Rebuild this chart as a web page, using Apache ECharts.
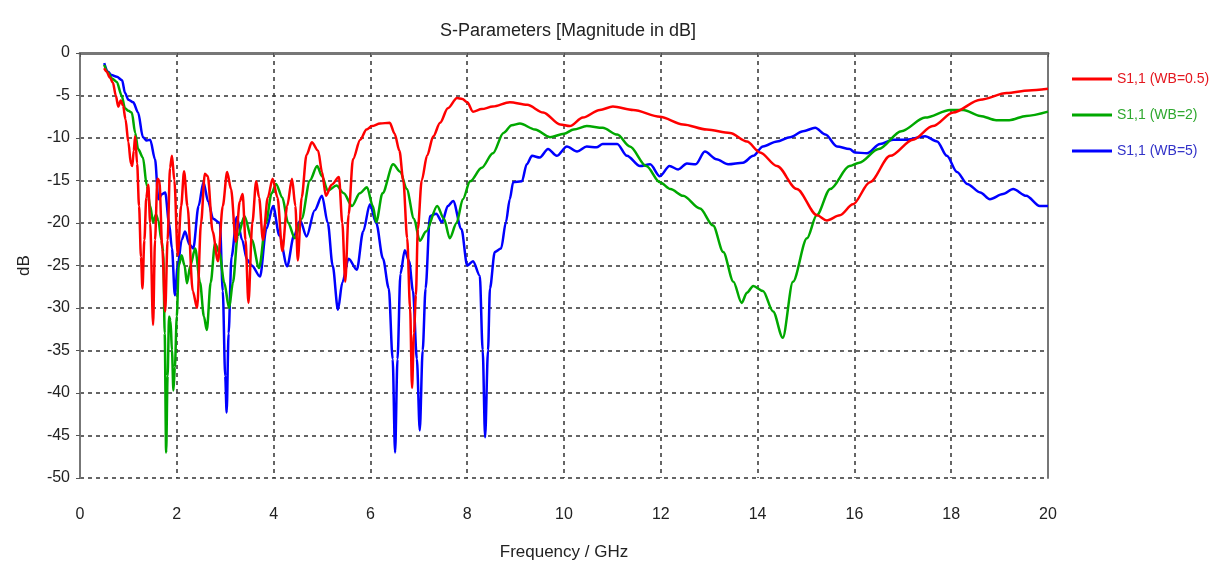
<!DOCTYPE html>
<html>
<head>
<meta charset="utf-8">
<script src="https://cdn.jsdelivr.net/npm/echarts@6/dist/echarts.min.js"></script>
<style>
  html, body { margin: 0; padding: 0; background: #fff; overflow: hidden; }
  #chart { width: 1214px; height: 566px; }
</style>
</head>
<body>
<div id="chart"></div>
<script>
// S1,1 magnitude (dB) versus frequency (GHz) for three WB values
const redFreq = [0.50,0.55,0.62,0.68,0.74,0.79,0.84,0.89,0.94,1.00,1.05,1.08,1.11,1.14,1.18,1.22,1.26,1.29,1.33,1.37,1.41,1.45,1.51,1.55,1.60,1.64,1.70,1.76,1.81,1.86,1.90,1.95,2.02,2.09,2.15,2.22,2.33,2.42,2.50,2.58,2.64,2.74,2.85,2.95,3.04,3.12,3.22,3.30,3.36,3.42,3.48,3.56,3.64,3.70,3.78,3.88,3.98,4.08,4.18,4.28,4.38,4.45,4.50,4.58,4.68,4.79,4.92,5.00,5.08,5.20,5.35,5.42,5.48,5.55,5.64,5.79,5.92,6.03,6.20,6.40,6.50,6.60,6.68,6.76,6.82,6.86,6.90,6.94,6.98,7.06,7.17,7.30,7.44,7.60,7.79,7.90,8.00,8.12,8.30,8.53,8.88,9.24,9.57,9.92,10.12,10.39,10.74,11.01,11.43,11.98,12.46,12.95,13.43,13.78,14.05,14.40,14.81,15.23,15.43,15.70,15.97,16.32,16.74,17.21,17.62,18.04,18.60,19.15,19.60,20.00];
const redDb = [-1.8,-2.2,-2.9,-3.5,-5.0,-6.3,-5.6,-6.2,-7.8,-10.5,-13.0,-13.3,-11.5,-9.8,-13,-18,-24,-27.7,-22,-17,-15.5,-20,-32,-22,-14.8,-15,-23,-30.4,-22,-13.5,-12.1,-15,-23.8,-18,-13.9,-18,-28,-30,-20,-14.2,-14.5,-21,-24.5,-18,-14.0,-16,-22.2,-17.5,-16.6,-22,-29.4,-20,-15.1,-17,-22,-17,-14.8,-17,-23.3,-18,-14.8,-18,-24.4,-17,-12,-10.5,-11.5,-14,-16.8,-15.5,-14.6,-20,-26.9,-19,-12.5,-10.2,-9.0,-8.6,-8.3,-8.2,-9.5,-11.5,-15,-21.8,-30,-39.4,-33,-28.5,-20.7,-15,-12.1,-9.8,-8.2,-6.5,-5.3,-5.4,-5.8,-6.9,-6.6,-6.3,-5.8,-6.1,-7.0,-8.4,-8.6,-7.6,-6.7,-6.3,-6.7,-7.5,-8.4,-9.0,-9.4,-10.4,-11.7,-13.3,-16.0,-19.1,-19.7,-19.1,-17.8,-15.2,-12.1,-10.2,-8.6,-7.0,-5.5,-4.7,-4.4,-4.2];

const greenFreq = [0.50,0.58,0.66,0.76,0.86,0.93,1.00,1.07,1.14,1.20,1.30,1.38,1.45,1.51,1.57,1.62,1.68,1.72,1.75,1.78,1.81,1.84,1.87,1.90,1.93,1.96,2.00,2.04,2.10,2.16,2.21,2.28,2.38,2.48,2.56,2.62,2.70,2.79,2.88,2.98,3.08,3.16,3.26,3.40,3.55,3.70,3.84,3.96,4.05,4.18,4.30,4.44,4.58,4.75,4.90,5.00,5.12,5.30,5.45,5.62,5.78,5.93,6.05,6.12,6.25,6.47,6.62,6.75,6.90,7.02,7.15,7.38,7.52,7.64,7.78,7.91,8.06,8.30,8.53,8.75,8.92,9.09,9.40,9.71,10.00,10.20,10.47,10.80,11.10,11.36,11.70,11.98,12.20,12.46,12.81,13.08,13.29,13.50,13.67,13.78,13.91,14.11,14.32,14.52,14.73,15.02,15.22,15.50,15.90,16.10,16.50,16.97,17.46,17.98,18.25,18.60,18.93,19.20,19.55,20.00];
const greenDb = [-1.4,-2.3,-3.0,-3.4,-5.0,-6.5,-6.8,-7.0,-9.4,-11.3,-12.3,-15.6,-18,-19.9,-19,-19.7,-22,-23.4,-33,-47,-38,-31,-31.5,-35,-39.7,-37,-31,-25,-23.8,-25,-27.1,-25,-23,-27,-31,-32.6,-27,-22.4,-23.5,-27,-30,-27,-21.5,-19.2,-22,-25.3,-20,-16.5,-15.4,-17,-20,-21.8,-19.5,-15,-13.3,-14.5,-16.2,-15.6,-16.5,-18.0,-16.5,-15.8,-18,-19.9,-16.5,-13.1,-14,-16,-19.5,-22.1,-21,-18,-19.5,-21.8,-20,-17.2,-15.1,-13.5,-11.8,-9.4,-8.5,-8.3,-9.0,-9.9,-9.5,-9.0,-8.6,-8.8,-9.6,-11.0,-13.3,-15.2,-16.0,-16.8,-18.3,-20.3,-23.4,-26.9,-29.4,-28.2,-27.4,-28.0,-30.4,-33.5,-26.9,-21.8,-19.1,-16.0,-13.3,-12.9,-11.3,-9.2,-7.6,-6.7,-6.7,-7.4,-7.9,-7.9,-7.4,-6.9];

const blueFreq = [0.50,0.58,0.65,0.76,0.87,0.93,1.00,1.10,1.20,1.30,1.38,1.45,1.55,1.62,1.70,1.76,1.84,1.90,1.96,2.02,2.10,2.17,2.26,2.34,2.45,2.55,2.65,2.75,2.89,2.95,3.00,3.03,3.07,3.13,3.24,3.35,3.45,3.55,3.72,3.85,3.99,4.12,4.28,4.42,4.55,4.68,4.85,5.00,5.12,5.22,5.33,5.42,5.55,5.72,5.85,5.99,6.12,6.26,6.38,6.46,6.51,6.56,6.62,6.71,6.80,6.88,6.96,7.02,7.08,7.14,7.23,7.36,7.48,7.60,7.71,7.88,8.00,8.12,8.26,8.32,8.37,8.43,8.47,8.57,8.70,8.80,8.88,8.95,9.13,9.23,9.34,9.50,9.67,9.85,10.06,10.27,10.47,10.67,10.80,11.10,11.30,11.57,11.78,11.98,12.18,12.36,12.54,12.72,12.91,13.15,13.39,13.70,13.91,14.11,14.40,14.67,14.94,15.19,15.40,15.64,15.90,16.01,16.26,16.53,16.80,17.08,17.46,17.71,17.91,18.12,18.33,18.60,18.80,19.07,19.28,19.55,19.83,20.00];
const blueDb = [-1.2,-2.2,-2.6,-2.8,-3.2,-4.7,-5.5,-5.8,-7.0,-9.9,-10.3,-10.2,-12.5,-17.2,-16.6,-16.4,-20,-23,-28.5,-25,-22,-21,-22.5,-23,-18,-15.2,-17.5,-19.5,-20,-28,-38,-42.3,-33,-24,-19.3,-22,-24.3,-25,-26.3,-20.7,-18,-21.5,-25.1,-21.5,-19.7,-21.6,-18.5,-16.8,-20,-25,-30.2,-27,-24.2,-25.5,-21,-17.8,-20,-24.2,-27.7,-36,-47,-36,-26,-23.2,-24.5,-28,-36,-44.4,-35,-27.7,-19.2,-18.9,-19.9,-18,-17.4,-20.7,-25,-24.5,-26.2,-35,-45.2,-35,-27.7,-23.4,-23,-19.9,-17.2,-15.2,-15.1,-13.1,-12.1,-12.3,-11.3,-12.1,-11.0,-11.6,-11.0,-11.1,-10.7,-10.7,-12.1,-13.3,-13.1,-14.5,-13.3,-13.7,-13.0,-13.1,-11.6,-12.5,-13.1,-12.9,-12.1,-11.0,-10.4,-9.9,-9.2,-8.8,-9.6,-11.0,-11.3,-11.7,-11.8,-10.7,-10.2,-10.2,-9.8,-10.4,-12.1,-14.0,-15.4,-16.4,-17.2,-16.6,-16.0,-16.8,-18.0,-18.0];

const seriesNames = ['S1,1 (WB=0.5)', 'S1,1 (WB=2)', 'S1,1 (WB=5)'];
const lineColors = ['#ff0000', '#00a800', '#0000ff'];
const legendTextColors = ['#e4161e', '#2fa82f', '#3232c8'];

const yTicks = [0, -5, -10, -15, -20, -25, -30, -35, -40, -45, -50];

const FONT = '"Liberation Sans", Arial, sans-serif';

function pairs(xs, ys) { return xs.map((x, i) => [x, ys[i]]); }

const chart = echarts.init(document.getElementById('chart'), null, { renderer: 'canvas', width: 1214, height: 566 });

const dashed = { show: true, lineStyle: { color: '#333', type: [4, 4], width: 1.5 } };

chart.setOption({
  animation: false,
  backgroundColor: '#ffffff',
  title: {
    text: 'S-Parameters [Magnitude in dB]',
    left: 563, top: 17, textAlign: 'center',
    textStyle: { fontFamily: FONT, fontSize: 18, fontWeight: 'normal', color: '#222' }
  },
  legend: {
    orient: 'vertical', left: 1067, top: 67,
    itemWidth: 40, itemHeight: 3, itemGap: 22,
    icon: 'rect',
    textStyle: { fontFamily: FONT, fontSize: 14 },
    data: seriesNames.map((n, i) => ({ name: n, textStyle: { color: legendTextColors[i] } }))
  },
  grid: { left: 80, top: 53, width: 968, height: 428, containLabel: false },
  xAxis: [{
    type: 'value', min: 0, max: 20, interval: 2,
    name: 'Frequency / GHz', nameLocation: 'middle', nameGap: 66,
    nameTextStyle: { fontFamily: FONT, fontSize: 17, color: '#222' },
    axisLine: { show: false },
    axisTick: { show: true, length: 4, lineStyle: { color: '#555' } },
    axisLabel: { fontFamily: FONT, fontSize: 16, color: '#222', margin: 29 },
    splitLine: dashed
  }, {
    type: 'value', min: 0, max: 20, position: 'top',
    axisLine: { show: true, onZero: false, lineStyle: { color: '#777', width: 3 } },
    axisTick: { show: false }, axisLabel: { show: false }, splitLine: { show: false }
  }],
  yAxis: [{
    type: 'value', min: -50, max: 0, interval: 5,
    name: 'dB', nameLocation: 'middle', nameGap: 47, nameRotate: 90,
    nameTextStyle: { fontFamily: FONT, fontSize: 17, color: '#222' },
    axisLine: { show: true, onZero: false, lineStyle: { color: '#777', width: 2 } },
    axisTick: { show: true, length: 4, lineStyle: { color: '#555' } },
    axisLabel: {
      fontFamily: FONT, fontSize: 16, color: '#222', margin: 10,
      formatter: v => (yTicks.indexOf(v) >= 0 ? String(v) : '')
    },
    splitLine: dashed
  }, {
    type: 'value', min: -50, max: 0, position: 'right',
    axisLine: { show: true, onZero: false, lineStyle: { color: '#777', width: 2 } },
    axisTick: { show: false }, axisLabel: { show: false }, splitLine: { show: false }
  }],
  series: [
    { name: seriesNames[0], data: pairs(redFreq, redDb) },
    { name: seriesNames[1], data: pairs(greenFreq, greenDb) },
    { name: seriesNames[2], data: pairs(blueFreq, blueDb) }
  ].map((s, i) => Object.assign({
    type: 'line', showSymbol: false, symbol: 'none', smooth: 0.3, smoothMonotone: 'x',
    color: lineColors[i],
    lineStyle: { color: lineColors[i], width: 2.5 },
    z: 3 - i
  }, s))
});
</script>
</body>
</html>
